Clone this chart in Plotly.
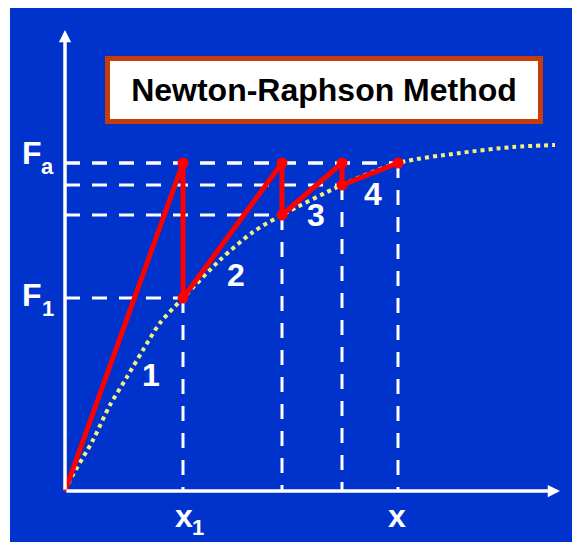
import plotly.graph_objects as go

# Iterates of the Newton-Raphson scheme (arbitrary displacement / force units)
iter_disp = [1.18, 2.17, 2.77, 3.33]      # x1, x2, x3, x
iter_force = [1.93, 2.76, 3.06, 3.28]     # internal force on the curve at each iterate
applied_load = 3.28                        # Fa

# Nonlinear load-displacement response (dotted curve)
curve_disp = [0.0, 0.05, 0.28, 0.45, 0.62, 0.78, 0.95, 1.18, 1.55, 1.88,
              2.17, 2.77, 3.33, 3.95, 4.48, 4.90]
curve_force = [0.0, 0.11, 0.51, 0.86, 1.14, 1.41, 1.68, 1.93, 2.31, 2.59,
               2.76, 3.06, 3.28, 3.38, 3.44, 3.46]

iter_labels = ["1", "2", "3", "4"]

BLUE = "#0033CC"
RED = "#FF0000"
WHITE = "#FFFFFF"
YELLOW = "#F4F07C"
FONT = "Liberation Sans, Arial, sans-serif"

fig = go.Figure()

# Dashed guide lines: horizontal from the force axis, vertical down to the displacement axis
hx, hy, vx, vy = [], [], [], []
for d, f in zip(iter_disp, iter_force):
    hx += [0, d, None]
    hy += [f, f, None]
    vx += [d, d, None]
    vy += [f, 0, None]
# the applied-load level spans out to the last iterate
hx += [0, iter_disp[-1], None]
hy += [applied_load, applied_load, None]

fig.add_trace(go.Scatter(x=hx, y=hy, mode="lines",
                         line=dict(color=WHITE, width=3, dash="15px,12px"),
                         hoverinfo="skip"))
fig.add_trace(go.Scatter(x=vx, y=vy, mode="lines",
                         line=dict(color=WHITE, width=3, dash="15px,12px"),
                         hoverinfo="skip"))

# Response curve
fig.add_trace(go.Scatter(x=curve_disp, y=curve_force, mode="lines",
                         line=dict(color=YELLOW, width=4, dash="dot", shape="spline",
                                   smoothing=0.8),
                         hoverinfo="skip"))

# Newton-Raphson path: tangent step up to Fa, then drop to the curve
px, py = [0.0], [0.0]
for d, f in zip(iter_disp, iter_force):
    px += [d, d]
    py += [applied_load, f]
px, py = px[:-1], py[:-1]
fig.add_trace(go.Scatter(x=px, y=py, mode="lines",
                         line=dict(color=RED, width=5), hoverinfo="skip"))
fig.add_trace(go.Scatter(x=px[1:], y=py[1:], mode="markers",
                         marker=dict(color=RED, size=11), hoverinfo="skip"))

annotations = []

# Axes with arrowheads
for (x, y) in [(4.95, 0.0), (0.0, 4.61)]:
    annotations.append(dict(x=x, y=y, ax=0.0, ay=0.0, xref="x", yref="y",
                            axref="x", ayref="y", text="", showarrow=True,
                            arrowhead=2, arrowsize=0.7, arrowwidth=3.5,
                            arrowcolor=WHITE, standoff=0, startstandoff=0))

# Title box
annotations.append(dict(x=2.59, y=4.01, xref="x", yref="y", showarrow=False,
                        text="<b>Newton-Raphson Method</b>",
                        font=dict(family=FONT, size=32, color="black"),
                        bgcolor="white", bordercolor="#C83C0A", borderwidth=5,
                        borderpad=0, width=428, height=58))

big = dict(family=FONT, size=32, color=WHITE)
small = dict(family=FONT, size=22, color=WHITE)

def label(x, y, text, font, xanchor="center"):
    annotations.append(dict(x=x, y=y, xref="x", yref="y", showarrow=False,
                            text="<b>" + text + "</b>", font=font,
                            xanchor=xanchor, yanchor="middle"))

# Force axis labels
label(-0.335, applied_load + 0.105, "F", big)
label(-0.18, applied_load - 0.03, "a", small)
label(-0.335, iter_force[0] + 0.03, "F", big)
label(-0.17, iter_force[0] - 0.10, "1", small)

# Displacement axis labels
label(iter_disp[0] + 0.01, -0.25, "x", big)
label(iter_disp[0] + 0.15, -0.36, "1", small)
label(iter_disp[-1] - 0.01, -0.25, "x", big)

# Iteration numbers
for (x, y), t in zip([(0.86, 1.16), (1.71, 2.16), (2.51, 2.76), (3.08, 2.97)], iter_labels):
    label(x, y, t, big)

fig.update_layout(
    width=572, height=542,
    margin=dict(l=10, r=0, t=8, b=0),
    paper_bgcolor="white", plot_bgcolor=BLUE,
    showlegend=False,
    xaxis=dict(range=[-0.55, 5.07], visible=False, fixedrange=True),
    yaxis=dict(range=[-0.51, 4.83], visible=False, fixedrange=True),
    annotations=annotations,
)

fig.write_html("out.html")
